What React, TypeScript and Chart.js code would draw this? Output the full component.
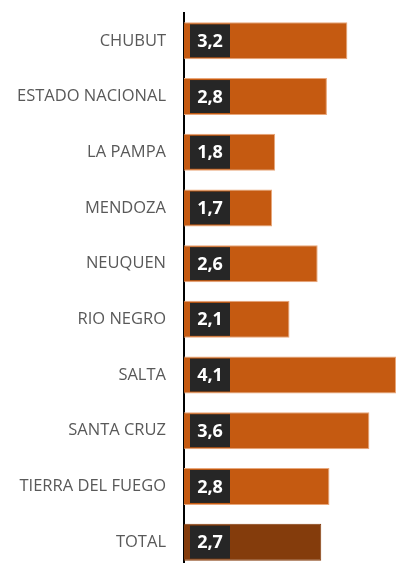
import React, { useEffect, useRef } from "react";
import { Chart, registerables } from "chart.js";

Chart.register(...registerables);

const categories = [
  "CHUBUT",
  "ESTADO NACIONAL",
  "LA PAMPA",
  "MENDOZA",
  "NEUQUEN",
  "RIO NEGRO",
  "SALTA",
  "SANTA CRUZ",
  "TIERRA DEL FUEGO",
  "TOTAL",
];
const values = [3.19, 2.79, 1.78, 1.72, 2.61, 2.06, 4.14, 3.62, 2.84, 2.68];
const barColors = [
  "#C55A11", "#C55A11", "#C55A11", "#C55A11", "#C55A11",
  "#C55A11", "#C55A11", "#C55A11", "#C55A11", "#843C0C",
];
const borderColors = [
  "#E9A77A", "#E9A77A", "#E9A77A", "#E9A77A", "#E9A77A",
  "#E9A77A", "#E9A77A", "#E9A77A", "#E9A77A", "#843C0C",
];

const fmt = (v: number) => v.toFixed(1).replace(".", ",");

const valueBoxPlugin = {
  id: "valueBoxes",
  afterDatasetsDraw(chart: any) {
    const ctx = chart.ctx;
    const meta = chart.getDatasetMeta(0);
    ctx.save();
    meta.data.forEach((bar: any, i: number) => {
      const base = bar.base;
      const y = bar.y;
      const bx = base + 6;
      const bw = 40;
      const bh = 33;
      ctx.fillStyle = "#262626";
      ctx.fillRect(bx, y - bh / 2, bw, bh);
      ctx.fillStyle = "#FFFFFF";
      ctx.font = "bold 18px 'Open Sans'";
      ctx.textAlign = "center";
      ctx.textBaseline = "middle";
      ctx.fillText(fmt(values[i]), bx + bw / 2, y + 1);
    });
    ctx.restore();
  },
};

export default function App() {
  const ref = useRef<HTMLCanvasElement | null>(null);
  useEffect(() => {
    if (!ref.current) return;
    const chart = new Chart(ref.current, {
      type: "bar",
      data: {
        labels: categories,
        datasets: [
          {
            data: values,
            backgroundColor: barColors,
            borderColor: borderColors,
            borderWidth: 1,
            borderSkipped: "left",
            categoryPercentage: 1,
            barPercentage: 0.665,
          },
        ],
      },
      options: {
        indexAxis: "y",
        animation: false,
        responsive: true,
        maintainAspectRatio: false,
        layout: { padding: { top: 13, bottom: 0, left: 0, right: 0 } },
        plugins: {
          legend: { display: false },
          tooltip: { enabled: false },
        },
        scales: {
          x: {
            display: false,
            min: 0,
            max: 4.53,
          },
          y: {
            grid: { display: false, drawTicks: false },
            border: { display: true, color: "#000000", width: 2 },
            ticks: {
              color: "#595959",
              font: { family: "'Open Sans'", size: 16.5 },
              padding: 18,
            },
            afterFit: (scale: any) => {
              scale.width = 184;
              scale.paddingTop = 0;
              scale.paddingBottom = 0;
            },
          },
        },
      },
      plugins: [valueBoxPlugin],
    });
    return () => chart.destroy();
  }, []);
  return (
    <div style={{ position: "fixed", left: 0, top: 0, width: 416, height: 570, background: "#fff" }}>
      <canvas ref={ref} />
    </div>
  );
}
